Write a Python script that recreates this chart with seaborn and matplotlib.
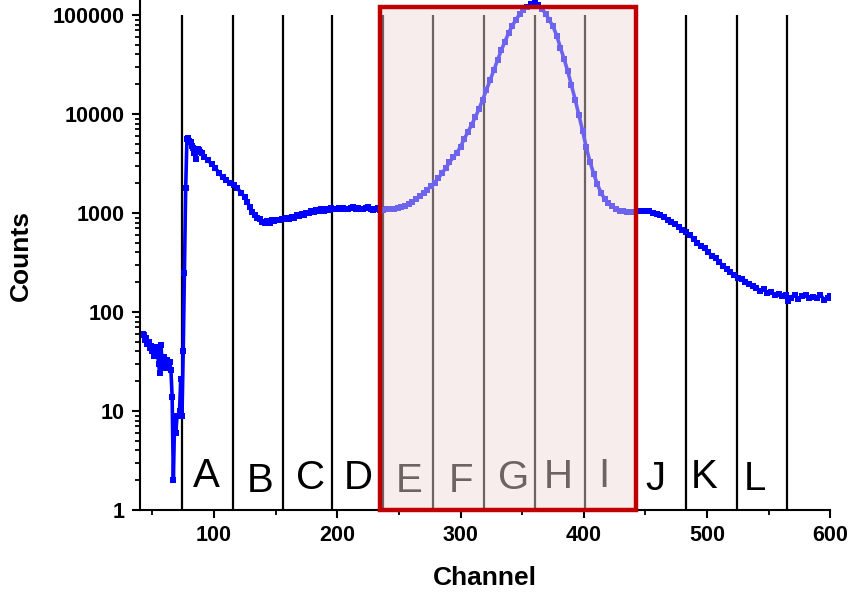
import numpy as np
import pandas as pd
import seaborn as sns
import matplotlib.pyplot as plt
from matplotlib.patches import Rectangle
from matplotlib.ticker import MultipleLocator, LogLocator, NullFormatter, FixedLocator

# spectrum (channel, counts)
channel = [42, 43, 44, 45, 46, 47, 48, 49, 50, 51, 52, 53, 54, 55, 56, 57, 58, 59, 60, 61,
           62, 63, 64, 65, 66, 67, 68, 69, 70, 71, 72, 73, 74, 75, 76, 77, 78, 79, 80, 81,
           82, 83, 84, 85, 86, 87, 88, 89, 90, 92, 95, 98, 101, 104, 107, 110, 113, 116, 119, 122,
           125, 127, 129, 131, 133, 135, 137, 139, 141, 143, 145, 147, 149, 151, 153, 155, 157, 159, 161, 163,
           165, 167, 169, 171, 173, 175, 177, 179, 181, 183, 185, 187, 189, 191, 193, 195, 197, 199, 201, 203,
           205, 207, 209, 211, 213, 215, 217, 219, 221, 223, 225, 227, 229, 231, 233, 235, 237, 240, 243, 246,
           249, 252, 255, 258, 261, 264, 267, 270, 273, 276, 279, 282, 285, 288, 291, 294, 297, 300, 303, 306,
           309, 312, 315, 318, 321, 324, 327, 330, 333, 336, 339, 342, 345, 348, 351, 354, 357, 360, 363, 366,
           369, 372, 375, 378, 381, 384, 387, 390, 393, 396, 399, 402, 405, 408, 411, 414, 417, 420, 423, 426,
           429, 432, 435, 438, 441, 444, 447, 450, 453, 456, 459, 462, 465, 468, 471, 474, 477, 480, 483, 486,
           489, 492, 495, 498, 501, 504, 507, 510, 513, 516, 519, 522, 525, 528, 531, 534, 537, 540, 543, 546,
           549, 552, 555, 558, 561, 564, 566, 568, 571, 574, 577, 580, 583, 586, 589, 592, 595, 598, 600]
counts = [60, 58, 52, 55, 47, 50, 43, 45, 40, 36, 44, 38, 41, 30, 24, 46, 28, 35, 32, 27,
          33, 30, 31, 26, 14, 2, 8, 6, 9, 9, 10, 21, 9, 40, 250, 1800, 5600, 5700, 5400, 5200,
          4800, 4500, 4000, 3500, 4300, 4400, 4300, 4100, 4000, 3700, 3400, 3150, 2850, 2550, 2300, 2150, 2000, 1900, 1780, 1600,
          1450, 1300, 1150, 1020, 950, 900, 870, 820, 790, 830, 800, 850, 830, 860, 850, 870, 880, 890, 870, 920,
          900, 950, 940, 980, 960, 1010, 990, 1050, 1020, 1070, 1040, 1090, 1060, 1100, 1080, 1120, 1090, 1110, 1120, 1100,
          1130, 1110, 1090, 1120, 1140, 1100, 1130, 1110, 1090, 1120, 1140, 1100, 1080, 1100, 1130, 1070, 1080, 1090, 1100, 1110,
          1120, 1150, 1190, 1230, 1300, 1380, 1480, 1580, 1720, 1870, 2030, 2250, 2530, 2850, 3250, 3650, 4050, 4700, 5600, 6600,
          7800, 9300, 11300, 14000, 17500, 22000, 27800, 35000, 44000, 54000, 66000, 78000, 90000, 102000, 113000, 122000, 129000, 131000, 125000, 116000,
          103000, 89000, 77000, 62000, 47000, 36000, 27000, 19500, 14000, 9800, 6800, 4600, 3300, 2500, 1950, 1600, 1380, 1250, 1170, 1100,
          1060, 1040, 1030, 1020, 1030, 1040, 1050, 1060, 1040, 1010, 980, 950, 920, 860, 810, 780, 730, 680, 640, 600,
          550, 500, 470, 440, 400, 370, 350, 320, 290, 270, 255, 235, 220, 215, 200, 190, 185, 175, 165, 170,
          155, 160, 150, 152, 145, 150, 128, 140, 150, 135, 145, 148, 140, 143, 138, 150, 132, 140, 145]

# region boundaries and labels
bounds = [74, 115, 156, 196, 237, 278, 319, 360, 401, 442, 483, 524, 565]
region_labels = list("ABCDEFGHIJKL")
label_x = [94, 137, 178, 217, 258, 300, 343, 379, 416, 458, 498, 539]
label_y = [1.71, 1.52, 1.63, 1.63, 1.52, 1.52, 1.63, 1.67, 1.71, 1.59, 1.67, 1.59]
box_range = (235, 442)

df = pd.DataFrame({"Channel": channel, "Counts": counts})

sns.set_style("ticks", {"text.color": "black", "axes.labelcolor": "black",
                        "xtick.color": "black", "ytick.color": "black",
                        "axes.edgecolor": "black"})
plt.rcParams["font.family"] = ["Liberation Sans", "DejaVu Sans"]

fig = plt.figure(figsize=(8.49, 5.92), dpi=100)
ax = fig.add_axes([0.165, 0.1385, 0.813, 0.8615])

ax.set_yscale("log")
ax.set_xlim(40, 600)
ax.set_ylim(1, 1.42e5)

ax.vlines(bounds, 1, 1.0e5, color="black", lw=1.6, zorder=1)

sns.lineplot(data=df, x="Channel", y="Counts", ax=ax, color="#0000ff", lw=2.6,
             marker="s", markersize=4.2, markeredgewidth=0, sort=False, zorder=2)

for lab, x, y in zip(region_labels, label_x, label_y):
    ax.text(x, y, lab, fontsize=29, ha="center", va="baseline", color="black", zorder=3)

ax.add_patch(Rectangle((box_range[0], 1), box_range[1] - box_range[0], 1.2e5 - 1,
                       facecolor=(239/255, 217/255, 217/255, 0.46), edgecolor="#c00000",
                       lw=3.2, zorder=5, clip_on=False))

sns.despine(ax=ax)
for s in ["left", "bottom"]:
    ax.spines[s].set_linewidth(1.5)
    ax.spines[s].set_color("black")

ax.xaxis.set_major_locator(FixedLocator([100, 200, 300, 400, 500, 600]))
ax.xaxis.set_minor_locator(MultipleLocator(50))
ax.yaxis.set_major_locator(FixedLocator([1, 10, 100, 1000, 10000, 100000]))
ax.yaxis.set_minor_locator(LogLocator(base=10, subs=np.arange(2, 10), numticks=20))
ax.yaxis.set_minor_formatter(NullFormatter())
ax.set_yticklabels(["1", "10", "100", "1000", "10000", "100000"])

ax.tick_params(which="both", color="black", labelcolor="black")
ax.tick_params(which="major", length=6, width=1.5, labelsize=15.5, pad=5)
ax.tick_params(which="minor", length=3.5, width=1.3)
for t in ax.get_xticklabels() + ax.get_yticklabels():
    t.set_fontweight("bold")

ax.set_xlabel("Channel", fontsize=19, fontweight="bold", labelpad=14, color="black")
ax.set_ylabel("Counts", fontsize=19, fontweight="bold", labelpad=14, color="black")

fig.savefig("out.png", dpi=100)
